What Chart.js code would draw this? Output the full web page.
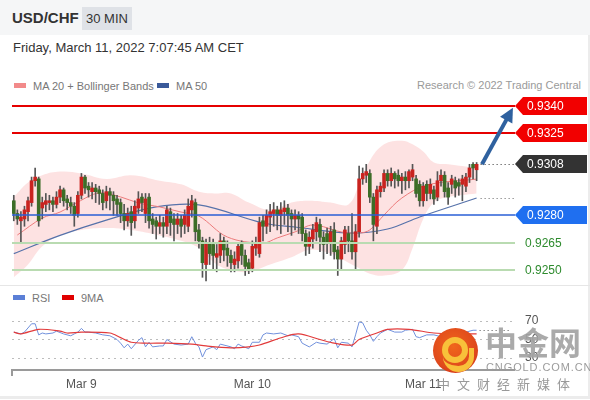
<!DOCTYPE html>
<html>
<head>
<meta charset="utf-8">
<script src="https://cdn.jsdelivr.net/npm/chart.js@4.4.1/dist/chart.umd.min.js"></script>
<style>
body{margin:0;width:590px;height:400px;overflow:hidden;background:#fff;position:relative;font-family:"Liberation Sans",Arial,sans-serif}
#frame{position:absolute;left:0;top:0;width:588px;height:396px;border-right:2px solid #ececec;border-bottom:3px solid #ececec}
#head{position:absolute;left:0;top:0;width:590px;height:35px;background:#f5f6f7}
#pair{position:absolute;left:12px;top:9px;font-size:15px;font-weight:bold;color:#333}
#tf{position:absolute;left:82px;top:7px;width:50px;height:23px;line-height:23px;text-align:center;background:#dfe2e7;color:#333;font-size:13px}
#date{position:absolute;left:13px;top:40px;font-size:13px;color:#333}
.leg{position:absolute;font-size:11px;color:#777;line-height:14px}
.sw{display:inline-block;width:12px;height:5px;margin-right:7px;vertical-align:2px}
#research{position:absolute;right:9px;top:79px;font-size:11px;color:#9a9a9a}
#sep{position:absolute;left:0;top:285px;width:590px;height:1px;background:#e6e6e6}
canvas{position:absolute;left:0}
#main{top:95px}
#rsi{top:288px}
#wm{position:absolute;left:0;top:0;width:590px;height:400px;pointer-events:none}
#logo{position:absolute;left:433px;top:328px;width:45px;height:45px;border-radius:50%;background:radial-gradient(circle at 45% 40%,#f0661c 0%,#e04a1c 60%,#c8261a 100%);overflow:hidden}
#ring{position:absolute;left:9px;top:9px;width:14px;height:14px;border-radius:50%;border:6px solid #f8c13a}
#tail{position:absolute;left:10px;top:20px;width:26px;height:18px;border-radius:0 0 20px 20px;border-bottom:6px solid #f8c13a;border-right:5px solid #f8c13a}
#big{position:absolute;left:485px;top:324px;font-family:"Noto Sans CJK SC";font-size:32px;line-height:34px;font-weight:bold;color:#a3a3a3;opacity:.92}
#url{position:absolute;left:486px;top:361px;font-size:11px;letter-spacing:.9px;color:#9c9c9c}
#sub{position:absolute;left:437px;top:374px;font-family:"Noto Sans CJK SC";font-size:13px;letter-spacing:7px;color:#999}
</style>
</head>
<body>
<div id="frame"></div>
<div id="head"><div id="pair">USD/CHF</div><div id="tf">30 MIN</div></div>
<div id="date">Friday, March 11, 2022 7:07:45 AM CET</div>
<div class="leg" style="left:14px;top:79px"><span class="sw" style="background:#f28a8a"></span>MA 20 + Bollinger Bands</div>
<div class="leg" style="left:157px;top:79px"><span class="sw" style="background:#3a5a9a"></span>MA 50</div>
<div id="research">Research © 2022 Trading Central</div>
<canvas id="main" width="590" height="190"></canvas>
<div id="sep"></div>
<div class="leg" style="left:13px;top:291px"><span class="sw" style="background:#5b7fd6"></span>RSI</div>
<div class="leg" style="left:62px;top:291px"><span class="sw" style="background:#e00000"></span>9MA</div>
<canvas id="rsi" width="590" height="112"></canvas>
<div id="wm">
  <div id="logo"><div id="ring"></div><div id="tail"></div></div>
  <div id="big">中金网</div>
  <div id="url">CNGOLD.COM.CN</div>
  <div id="sub">中文财经新媒体</div>
</div>
<script>
//! candles, 30 min, from Mar 8 afternoon to Mar 11 morning
const candleOpen = [
  .9288,.9281,.9277,.9278,.9282,.9287,.9299,.9300,.9284,.9286,
  .9287,.9288,.9286,.9290,.9294,.9289,.9287,.9285,.9281,.9291,
  .9301,.9296,.9293,.9295,.9294,.9292,.9288,.9293,.9291,.9289,
  .9287,.9281,.9277,.9282,.9277,.9284,.9290,.9281,.9290,.9278,
  .9277,.9274,.9276,.9274,.9282,.9278,.9275,.9278,.9275,.9274,
  .9283,.9287,.9272,.9266,.9253,.9265,.9264,.9257,.9258,.9266,
  .9262,.9258,.9253,.9255,.9264,.9258,.9254,.9251,.9262,.9259,
  .9277,.9274,.9279,.9281,.9283,.9280,.9282,.9284,.9281,.9278,
  .9280,.9279,.9270,.9263,.9267,.9271,.9275,.9268,.9270,.9265,
  .9272,.9261,.9256,.9264,.9270,.9266,.9260,.9271,.9300,.9302,
  .9303,.9290,.9274,.9293,.9295,.9303,.9299,.9303,.9302,.9299,
  .9301,.9299,.9301,.9300,.9297,.9288,.9297,.9292,.9294,.9290,
  .9299,.9302,.9295,.9297,.9299,.9298,.9297,.9296,.9301,.9308,
  .9305]
const candleHigh = [
  .9291,.9283,.9282,.9285,.9290,.9301,.9306,.9301,.9290,.9292,
  .9291,.9290,.9293,.9296,.9295,.9291,.9290,.9287,.9293,.9303,
  .9302,.9298,.9298,.9297,.9296,.9294,.9296,.9295,.9293,.9291,
  .9289,.9286,.9284,.9285,.9288,.9293,.9292,.9292,.9292,.9281,
  .9279,.9280,.9279,.9285,.9284,.9281,.9281,.9280,.9283,.9289,
  .9291,.9289,.9275,.9268,.9267,.9268,.9267,.9264,.9270,.9268,
  .9266,.9261,.9260,.9265,.9266,.9261,.9256,.9266,.9268,.9279,
  .9280,.9283,.9286,.9287,.9285,.9287,.9288,.9286,.9283,.9283,
  .9282,.9281,.9272,.9271,.9275,.9279,.9278,.9271,.9273,.9274,
  .9276,.9263,.9268,.9274,.9274,.9281,.9275,.9307,.9306,.9308,
  .9305,.9292,.9296,.9298,.9305,.9305,.9306,.9304,.9305,.9303,
  .9304,.9305,.9308,.9302,.9299,.9298,.9299,.9300,.9296,.9304,
  .9305,.9304,.9298,.9302,.9301,.9300,.9302,.9303,.9308,.9309,
  .9309]
const candleLow = [
  .9277,.9275,.9265,.9274,.9277,.9285,.9296,.9274,.9278,.9282,
  .9283,.9282,.9284,.9287,.9285,.9283,.9281,.9274,.9279,.9289,
  .9292,.9290,.9289,.9287,.9286,.9283,.9284,.9283,.9280,.9280,
  .9276,.9272,.9274,.9269,.9273,.9281,.9282,.9276,.9273,.9270,
  .9267,.9270,.9268,.9270,.9269,.9266,.9270,.9268,.9270,.9271,
  .9279,.9266,.9262,.9246,.9244,.9253,.9250,.9249,.9254,.9255,
  .9252,.9249,.9249,.9251,.9253,.9247,.9248,.9249,.9258,.9257,
  .9266,.9270,.9271,.9274,.9272,.9270,.9275,.9271,.9269,.9272,
  .9270,.9266,.9258,.9259,.9262,.9266,.9260,.9256,.9259,.9258,
  .9256,.9247,.9250,.9259,.9260,.9256,.9250,.9268,.9297,.9298,
  .9287,.9266,.9270,.9290,.9293,.9296,.9296,.9295,.9296,.9292,
  .9294,.9295,.9299,.9290,.9285,.9285,.9288,.9289,.9286,.9288,
  .9296,.9290,.9286,.9292,.9290,.9291,.9288,.9293,.9298,.9300,
  .9299]
const candleClose = [
  .9281,.9278,.9279,.9283,.9288,.9299,.9301,.9277,.9287,.9288,
  .9288,.9286,.9290,.9294,.9288,.9287,.9285,.9280,.9291,.9301,
  .9295,.9294,.9295,.9293,.9292,.9287,.9293,.9291,.9288,.9286,
  .9281,.9277,.9281,.9276,.9285,.9289,.9287,.9289,.9277,.9275,
  .9274,.9276,.9274,.9283,.9276,.9275,.9278,.9274,.9280,.9285,
  .9288,.9271,.9266,.9254,.9265,.9259,.9258,.9259,.9266,.9261,
  .9258,.9254,.9256,.9263,.9258,.9252,.9250,.9263,.9265,.9276,
  .9274,.9280,.9282,.9283,.9280,.9283,.9284,.9280,.9278,.9280,
  .9278,.9270,.9263,.9268,.9272,.9276,.9268,.9264,.9265,.9271,
  .9260,.9256,.9266,.9272,.9266,.9260,.9271,.9300,.9303,.9304,
  .9290,.9275,.9294,.9296,.9303,.9299,.9303,.9300,.9299,.9301,
  .9299,.9304,.9305,.9292,.9288,.9296,.9292,.9297,.9289,.9299,
  .9302,.9293,.9290,.9300,.9295,.9296,.9300,.9301,.9306,.9306,
  .9308]

//! moving averages and bollinger bands, read at a few candles
const ma20Idx = [1,8,13,18,24,30,35,41,47,52,60,70,74,79,84,92,97,100,104,109,116,130]
const ma20Val = [.92692,.92785,.92818,.92873,.92923,.92901,.92868,.92846,.92818,.92796,.92681,.92648,.92676,.92709,.92747,.92709,.92703,.92720,.92802,.92895,.92966,.92999]
const ma50Idx = [0,13,26,40,52,70,79,95,105,114,130]
const ma50Val = [.92590,.92690,.92774,.92846,.92857,.92758,.92736,.92703,.92725,.92791,.92895]
const bandIdx = [0,4,8,13,19,26,33,41,47,52,57,61,66,72,78,83,89,94,97,100,104,109,112,115,118,122,130]
const bandUpper = [.9290,.9298,.9302,.9304,.9303,.9300,.9302,.9299,.9297,.9293,.9292,.9292,.9287,.9283,.9287,.9288,.9287,.9286,.9297,.9310,.9319,.9321,.9319,.9315,.9309,.9308,.9306]
const bandLower = [.9246,.9253,.9263,.9269,.9272,.9273,.9272,.9269,.9266,.9262,.9253,.9250,.9249,.9253,.9257,.9261,.9259,.9254,.9251,.9248,.9247,.9250,.9262,.9278,.9287,.9290,.9292]

//! niveles de la derecha
const levelPrices = [0.9340, 0.9325, 0.9308, 0.9280, 0.9265, 0.9250]
const levelLabels = ['0.9340', '0.9325', '0.9308', '0.9280', '0.9265', '0.9250']
const arrowFrom = [131.5, 0.9308]
const arrowTo = [140.2, 0.9339]

//! RSI panel
const rsiIdx = [0,2,3,5,6,7,8,9,11,12,14,16,17,18,19,20,21,23,25,27,29,30,31,32,33,35,36,37,38,39,41,42,43,45,47,49,50,51,52,53,54,56,57,58,61,62,63,64,66,67,69,70,71,73,75,77,78,80,81,83,85,86,88,90,91,92,94,95,96,97,98,99,100,101,102,103,105,107,109,110,112,113,114,116,118,120,122,125,127,129,130]
const rsiVal = [58,56,58,67,67,55,57,56,57,59,56,54,56,58,62,58,58,57,55,54,50,46,41,45,40,49,52,42,47,42,43,43,50,45,44,45,53,46,42,31,39,42,39,45,42,40,45,43,40,47,47,55,57,56,57,54,55,53,46,42,47,46,45,51,41,47,46,42,55,69,68,60,55,48,53,57,61,58,58,60,61,53,52,55,55,53,56,55,58,60,60]
const ma9Idx = [0,2,7,13,15,19,27,30,33,37,43,50,54,61,66,69,76,80,86,90,95,97,102,105,111,118,124,130]
const ma9Val = [58,56,61,59,57,58,57,52,47,46,46,45,43,41,42,44,53,56,50,46,44,50,57,61,61,57,56,56]
const rsiLevels = [70, 50, 30]
const dayIdx = [19, 67, 115]
const dayLabels = ['Mar 9', 'Mar 10', 'Mar 11']

Chart.defaults.font.family = '"Liberation Sans", Arial, sans-serif'
const pts = (xs, ys) => xs.map((x, k) => ({x, y: ys[k]}))
const xRange = {min: -0.5, max: 140.5}

//! dibuja niveles, etiquetas y flecha
const levelLook = [
  {line: '#e60000', width: 2, tag: '#f20000'},
  {line: '#e60000', width: 2, tag: '#f20000'},
  {line: null, width: 0, tag: '#333333'},
  {line: '#2a5fd6', width: 1.3, tag: '#1f6ff0'},
  {line: '#b9dbb1', width: 2, tag: null, text: '#2e8b2e'},
  {line: '#b9dbb1', width: 2, tag: null, text: '#2e8b2e'}
]
const mainOverlay = {
  id: 'mainOverlay',
  afterDatasetsDraw(chart){
    const {ctx, chartArea: a, scales: {x, y}} = chart
    ctx.save()
    levelPrices.forEach((p, k) => {
      const look = levelLook[k]
      const py = Math.round(y.getPixelForValue(p))
      if(look.line){
        ctx.strokeStyle = look.line
        ctx.lineWidth = look.width
        ctx.beginPath(); ctx.moveTo(a.left, py); ctx.lineTo(a.right + 1, py); ctx.stroke()
      }
      ctx.font = '12px "Liberation Sans", Arial'
      ctx.textBaseline = 'middle'
      if(look.tag){
        const x0 = a.right + 1
        ctx.fillStyle = look.tag
        ctx.beginPath()
        ctx.moveTo(x0, py); ctx.lineTo(x0 + 8, py - 9); ctx.lineTo(587, py - 9)
        ctx.lineTo(587, py + 9); ctx.lineTo(x0 + 8, py + 9); ctx.closePath(); ctx.fill()
        ctx.fillStyle = '#fff'
        ctx.fillText(levelLabels[k], x0 + 12, py + 1)
      } else {
        ctx.fillStyle = look.text
        ctx.fillText(levelLabels[k], a.right + 11, py + 1)
      }
    })
    // punteados desde la ultima vela
    const last = candleClose.length - 1
    ctx.setLineDash([1, 3]); ctx.lineWidth = 1
    ;[[levelPrices[2], '#333'], [ma50Val[ma50Val.length - 1], '#666']].forEach(([p, c]) => {
      const py = Math.round(y.getPixelForValue(p)) + 0.5
      ctx.strokeStyle = c
      ctx.beginPath(); ctx.moveTo(x.getPixelForValue(last) + 4, py); ctx.lineTo(a.right, py); ctx.stroke()
    })
    ctx.setLineDash([])
    // flecha
    const x1 = x.getPixelForValue(arrowFrom[0]), y1 = y.getPixelForValue(arrowFrom[1])
    const x2 = x.getPixelForValue(arrowTo[0]), y2 = y.getPixelForValue(arrowTo[1])
    const ang = Math.atan2(y2 - y1, x2 - x1)
    ctx.strokeStyle = '#2f619f'; ctx.fillStyle = '#2f619f'; ctx.lineWidth = 4
    ctx.beginPath(); ctx.moveTo(x1, y1)
    ctx.lineTo(x2 - 10 * Math.cos(ang), y2 - 10 * Math.sin(ang)); ctx.stroke()
    ctx.beginPath()
    ctx.moveTo(x2, y2)
    ctx.lineTo(x2 - 14 * Math.cos(ang) + 7 * Math.sin(ang), y2 - 14 * Math.sin(ang) - 7 * Math.cos(ang))
    ctx.lineTo(x2 - 14 * Math.cos(ang) - 7 * Math.sin(ang), y2 - 14 * Math.sin(ang) + 7 * Math.cos(ang))
    ctx.closePath(); ctx.fill()
    ctx.restore()
  }
}

const mainChart = new Chart(document.getElementById('main').getContext('2d'), {
  type: 'bar',
  data: {
    datasets: [
      {type: 'line', data: pts(bandIdx, bandUpper), fill: '+1', backgroundColor: 'rgba(250,185,185,0.42)', borderWidth: 0, pointRadius: 0, tension: 0.4, order: 9},
      {type: 'line', data: pts(bandIdx, bandLower), fill: false, borderWidth: 0, pointRadius: 0, tension: 0.4, order: 9},
      {type: 'line', data: pts(ma50Idx, ma50Val), borderColor: '#5672aa', borderWidth: 1.2, pointRadius: 0, tension: 0.35, order: 5},
      {type: 'line', data: pts(ma20Idx, ma20Val), borderColor: '#ec7b7b', borderWidth: 1, pointRadius: 0, tension: 0.35, order: 4},
      {data: candleLow.map((l, i) => ({x: i, y: [l, candleHigh[i]]})), backgroundColor: '#555', barThickness: 1, grouped: false, order: 3},
      {data: candleOpen.map((o, i) => ({x: i, y: [o, candleClose[i]]})),
        backgroundColor: candleOpen.map((o, i) => candleClose[i] >= o ? '#c9231f' : '#3c6d27'),
        barThickness: 3, minBarLength: 1, grouped: false, order: 2}
    ]
  },
  options: {
    responsive: false, animation: false, events: [],
    layout: {padding: {left: 12, right: 76, top: 0, bottom: 0}},
    plugins: {legend: {display: false}, tooltip: {enabled: false}},
    scales: {
      x: {type: 'linear', ...xRange, offset: false, display: false},
      y: {min: 0.924177, max: 0.934604, display: false}
    }
  },
  plugins: [mainOverlay]
})

//! panel RSI
const rsiOverlay = {
  id: 'rsiOverlay',
  beforeDatasetsDraw(chart){
    const {ctx, chartArea: a, scales: {y}} = chart
    ctx.save()
    ctx.strokeStyle = '#bdbdbd'; ctx.lineWidth = 1; ctx.setLineDash([2, 4])
    rsiLevels.forEach(v => {
      const py = Math.round(y.getPixelForValue(v)) + 0.5
      ctx.beginPath(); ctx.moveTo(a.left, py); ctx.lineTo(a.right, py); ctx.stroke()
    })
    ctx.restore()
  },
  afterDatasetsDraw(chart){
    const {ctx, chartArea: a, scales: {x, y}} = chart
    ctx.save()
    const lastV = rsiVal[rsiVal.length - 1]
    const py = Math.round(y.getPixelForValue(lastV)) + 0.5
    ctx.strokeStyle = '#555'; ctx.setLineDash([1, 3]); ctx.lineWidth = 1
    ctx.beginPath(); ctx.moveTo(x.getPixelForValue(rsiIdx[rsiIdx.length - 1]) + 3, py); ctx.lineTo(a.right - 4, py); ctx.stroke()
    ctx.setLineDash([])
    ctx.fillStyle = '#555'; ctx.font = '12px "Liberation Sans", Arial'; ctx.textBaseline = 'middle'
    rsiLevels.forEach(v => ctx.fillText(String(v), a.right + 11, y.getPixelForValue(v)))
    ctx.strokeStyle = '#9a9a9a'; ctx.lineWidth = 2
    ctx.beginPath(); ctx.moveTo(a.left, a.bottom); ctx.lineTo(a.left, a.bottom + 6); ctx.stroke()
    ctx.restore()
  }
}

const rsiChart = new Chart(document.getElementById('rsi').getContext('2d'), {
  type: 'line',
  data: {
    datasets: [
      {data: pts(ma9Idx, ma9Val), borderColor: '#e23b3b', borderWidth: 1.2, pointRadius: 0, tension: 0.3},
      {data: pts(rsiIdx, rsiVal), borderColor: '#7090dc', borderWidth: 1, pointRadius: 0, tension: 0}
    ]
  },
  options: {
    responsive: false, animation: false, events: [],
    layout: {padding: {left: 12, right: 76, top: 12, bottom: 0}},
    plugins: {legend: {display: false}, tooltip: {enabled: false}},
    scales: {
      x: {
        type: 'linear', ...xRange,
        grid: {display: false, drawTicks: false},
        border: {display: true, color: '#9a9a9a', width: 2},
        afterBuildTicks: s => { s.ticks = dayIdx.map(v => ({value: v})) },
        afterFit: s => { s.height = 30 },
        ticks: {autoSkip: false, maxRotation: 0, padding: 7, color: '#555', font: {size: 12},
          callback: v => dayLabels[dayIdx.indexOf(v)]}
      },
      y: {min: 17, max: 92.7, display: false}
    }
  },
  plugins: [rsiOverlay]
})
</script>
</body>
</html>
